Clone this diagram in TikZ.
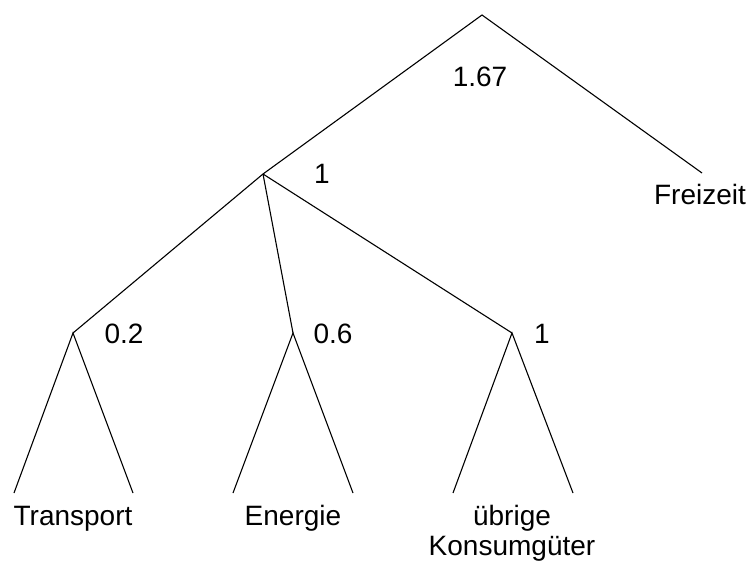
\documentclass[tikz,border=0pt]{standalone}
\usepackage{fontspec}
\setmainfont{Liberation Sans}
\begin{document}
\begin{tikzpicture}[x=1pt,y=-1pt,
  edge/.style={line width=1.1pt,black},
  lbl/.style={anchor=base,inner sep=0pt,font=\fontsize{28}{33}\selectfont}]
\useasboundingbox (0,0) rectangle (747,561);
\coordinate (root) at (482,15);
\coordinate (mid) at (263,174);
\coordinate (fz) at (702,173);
\coordinate (a) at (73,333);
\coordinate (b) at (293,333);
\coordinate (c) at (512,333);
\coordinate (a1) at (14,493);
\coordinate (a2) at (133,493);
\coordinate (b1) at (233,493);
\coordinate (b2) at (353,493);
\coordinate (c1) at (453,493);
\coordinate (c2) at (573,493);
\draw[edge] (mid) -- (root) -- (fz);
\draw[edge] (mid) -- (a);
\draw[edge] (mid) -- (b);
\draw[edge] (mid) -- (c);
\draw[edge] (a1) -- (a) -- (a2);
\draw[edge] (b1) -- (b) -- (b2);
\draw[edge] (c1) -- (c) -- (c2);
\node[lbl] (l167) at (480,87) {1.67};
\node[lbl] (l1a) at (322,184) {1};
\node[lbl] (l02) at (124,343) {0.2};
\node[lbl] (l06) at (333,343) {0.6};
\node[lbl] (l1b) at (542,343) {1};
\node[lbl] (tfz) at (700,205) {Freizeit};
\node[lbl] (ttr) at (73,525) {Transport};
\node[lbl] (ten) at (293,525) {Energie};
\node[lbl] (tub) at (512,525) {übrige};
\node[lbl] (tko) at (512,555) {Konsumgüter};
\end{tikzpicture}
\end{document}
